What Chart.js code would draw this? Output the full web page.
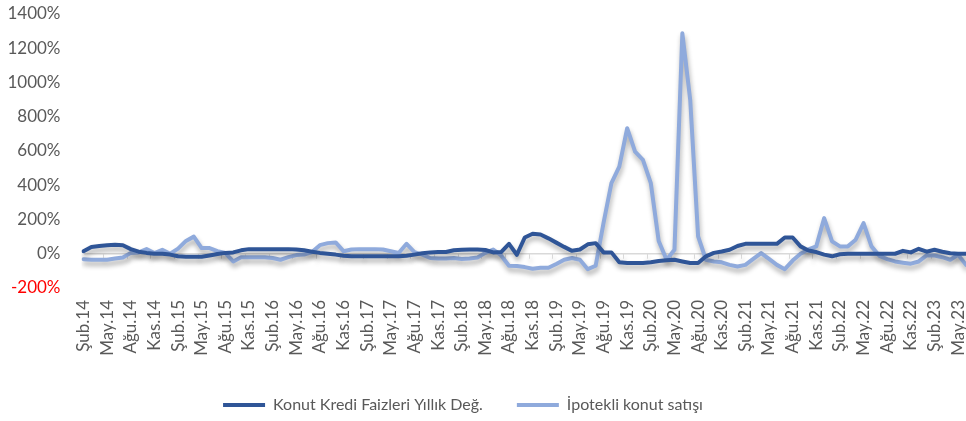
<!DOCTYPE html>
<html>
<head>
<meta charset="utf-8">
<script src="https://cdn.jsdelivr.net/npm/chart.js@4/dist/chart.umd.min.js"></script>
<style>
  html, body { margin: 0; padding: 0; background: #fff; overflow: hidden; }
  #wrap { width: 1036px; height: 421px; margin-left: -40px; }
</style>
</head>
<body>
<div id="wrap"><canvas id="chart"></canvas></div>
<script>
// aylar: Şub.14 - Haz.23 (aylık)
const monthNames = ['Oca', 'Şub', 'Mar', 'Nis', 'May', 'Haz', 'Tem', 'Ağu', 'Eyl', 'Eki', 'Kas', 'Ara'];
const labels = [];
for (let k = 0; k < 113; k++) {
  const m = (1 + k) % 12;
  const yy = 14 + Math.floor((1 + k) / 12);
  labels.push(monthNames[m] + '.' + yy);
}

// Konut Kredi Faizleri Yıllık Değ. (%)
const faizDegisim = [
  15, 40, 45, 50, 52, 50, 27, 12, 5, 0, 0, -5,
  -15, -18, -18, -18, -10, -2, 5, 8, 20, 27, 27, 27,
  27, 27, 27, 25, 20, 12, 5, 0, -5, -12, -15, -15,
  -15, -15, -15, -15, -15, -12, -5, 3, 8, 10, 10, 20,
  23, 25, 25, 22, 8, 10, 58, -6, 95, 117, 112, 90,
  65, 40, 17, 25, 55, 62, 8, 8, -50, -54, -54, -54,
  -50, -42, -38, -35, -45, -54, -54, -15, 5, 13, 23, 45,
  58, 58, 58, 58, 58, 95, 95, 43, 19, 10, -5, -15,
  -3, 0, 0, 0, 0, 0, 0, 0, 17, 8, 29, 12,
  23, 12, 3, 0, 0
];

// İpotekli konut satışı (yıllık değişim, %)
const ipotekliSatis = [
  -32, -35, -35, -35, -28, -22, 5, 8, 27, 4, 23, 0,
  30, 75, 100, 33, 33, 15, 4, -45, -20, -20, -20, -20,
  -25, -35, -20, -8, -5, 10, 50, 62, 66, 15, 25, 27,
  27, 27, 25, 15, 4, 58, 10, -5, -25, -28, -28, -25,
  -30, -28, -22, 5, 25, -10, -70, -72, -78, -88, -82, -82,
  -60, -35, -25, -35, -90, -70, 180, 412, 509, 733, 596, 548,
  412, 75, -35, 23, 1287, 898, 101, -35, -45, -50, -65, -74,
  -65, -30, 4, -30, -65, -90, -40, 0, 25, 43, 208, 72,
  43, 43, 82, 179, 43, -12, -31, -45, -52, -58, -45, -10,
  -10, -20, -35, -6, -65
];

const yTicks = [-200, 0, 200, 400, 600, 800, 1000, 1200, 1400];

const textColor = '#595959';
Chart.defaults.font.family = 'Lato, "Open Sans", sans-serif';
Chart.defaults.font.size = 16;
Chart.defaults.color = textColor;

// gölge efekti (Excel'deki çizgi gölgesi)
const lineShadow = {
  id: 'lineShadow',
  beforeDatasetsDraw(chart) {
    const ctx = chart.ctx;
    ctx.save();
    ctx.shadowColor = 'rgba(0,0,0,0.32)';
    ctx.shadowBlur = 5;
    ctx.shadowOffsetX = 1;
    ctx.shadowOffsetY = 4;
  },
  afterDatasetsDraw(chart) {
    chart.ctx.restore();
  }
};

// sıfır çizgisi üzerindeki küçük çentikler
const zeroTicks = {
  id: 'zeroTicks',
  beforeDatasetsDraw(chart) {
    const xs = chart.scales.x, ys = chart.scales.y, ctx = chart.ctx;
    const y0 = ys.getPixelForValue(0);
    ctx.save();
    ctx.strokeStyle = '#d9d9d9';
    ctx.lineWidth = 1;
    ctx.beginPath();
    for (let i = 3; i < labels.length; i += 3) {
      const px = (xs.getPixelForValue(i - 1) + xs.getPixelForValue(i)) / 2;
      ctx.moveTo(Math.round(px) + 0.5, y0);
      ctx.lineTo(Math.round(px) + 0.5, y0 + 5);
    }
    ctx.stroke();
    ctx.restore();
  }
};

new Chart(document.getElementById('chart'), {
  type: 'line',
  data: {
    labels: labels,
    datasets: [
      {
        label: 'Konut Kredi Faizleri Yıllık Değ.',
        data: faizDegisim,
        borderColor: '#2F5597',
        backgroundColor: '#2F5597',
        borderWidth: 4,
        borderJoinStyle: 'round',
        borderCapStyle: 'round',
        pointRadius: 0,
        tension: 0
      },
      {
        label: 'İpotekli konut satışı',
        data: ipotekliSatis,
        borderColor: '#8FAADC',
        backgroundColor: '#8FAADC',
        borderWidth: 4,
        borderJoinStyle: 'round',
        borderCapStyle: 'round',
        pointRadius: 0,
        tension: 0
      }
    ]
  },
  options: {
    responsive: true,
    maintainAspectRatio: false,
    animation: false,
    layout: { padding: { top: 14, left: 0, right: 30, bottom: -2 } },
    plugins: {
      legend: {
        position: 'bottom',
        labels: {
          usePointStyle: true,
          pointStyle: 'line',
          pointStyleWidth: 42,
          padding: 34,
          color: textColor,
          font: { size: 16 }
        }
      },
      tooltip: { enabled: false }
    },
    scales: {
      x: {
        grid: {
          display: true,
          drawOnChartArea: false,
          drawTicks: true,
          tickLength: 12,
          color: 'rgba(0,0,0,0)',
          tickColor: 'rgba(0,0,0,0)'
        },
        border: { display: false },
        ticks: {
          autoSkip: false,
          minRotation: 90,
          maxRotation: 90,
          padding: 0,
          color: textColor,
          font: { size: 17 },
          callback: (v, i) => (i % 3 === 0 ? labels[i] : '')
        },
        afterFit: (scale) => { scale.height = 75; }
      },
      y: {
        min: -200,
        max: 1400,
        afterBuildTicks: (scale) => { scale.ticks = yTicks.map(v => ({ value: v })); },
        grid: {
          drawTicks: true,
          tickLength: 23,
          tickColor: 'rgba(0,0,0,0)',
          lineWidth: 1.5,
          color: (c) => (c.tick && c.tick.value === 0 ? '#d9d9d9' : 'rgba(0,0,0,0)')
        },
        border: { display: false },
        ticks: {
          padding: 0,
          font: { size: 17 },
          color: (c) => (c.tick && c.tick.value < 0 ? '#FF0000' : textColor),
          callback: (v) => v + '%'
        },
        afterFit: (scale) => { scale.width = 123.5; }
      }
    }
  },
  plugins: [lineShadow, zeroTicks]
});
</script>
</body>
</html>
